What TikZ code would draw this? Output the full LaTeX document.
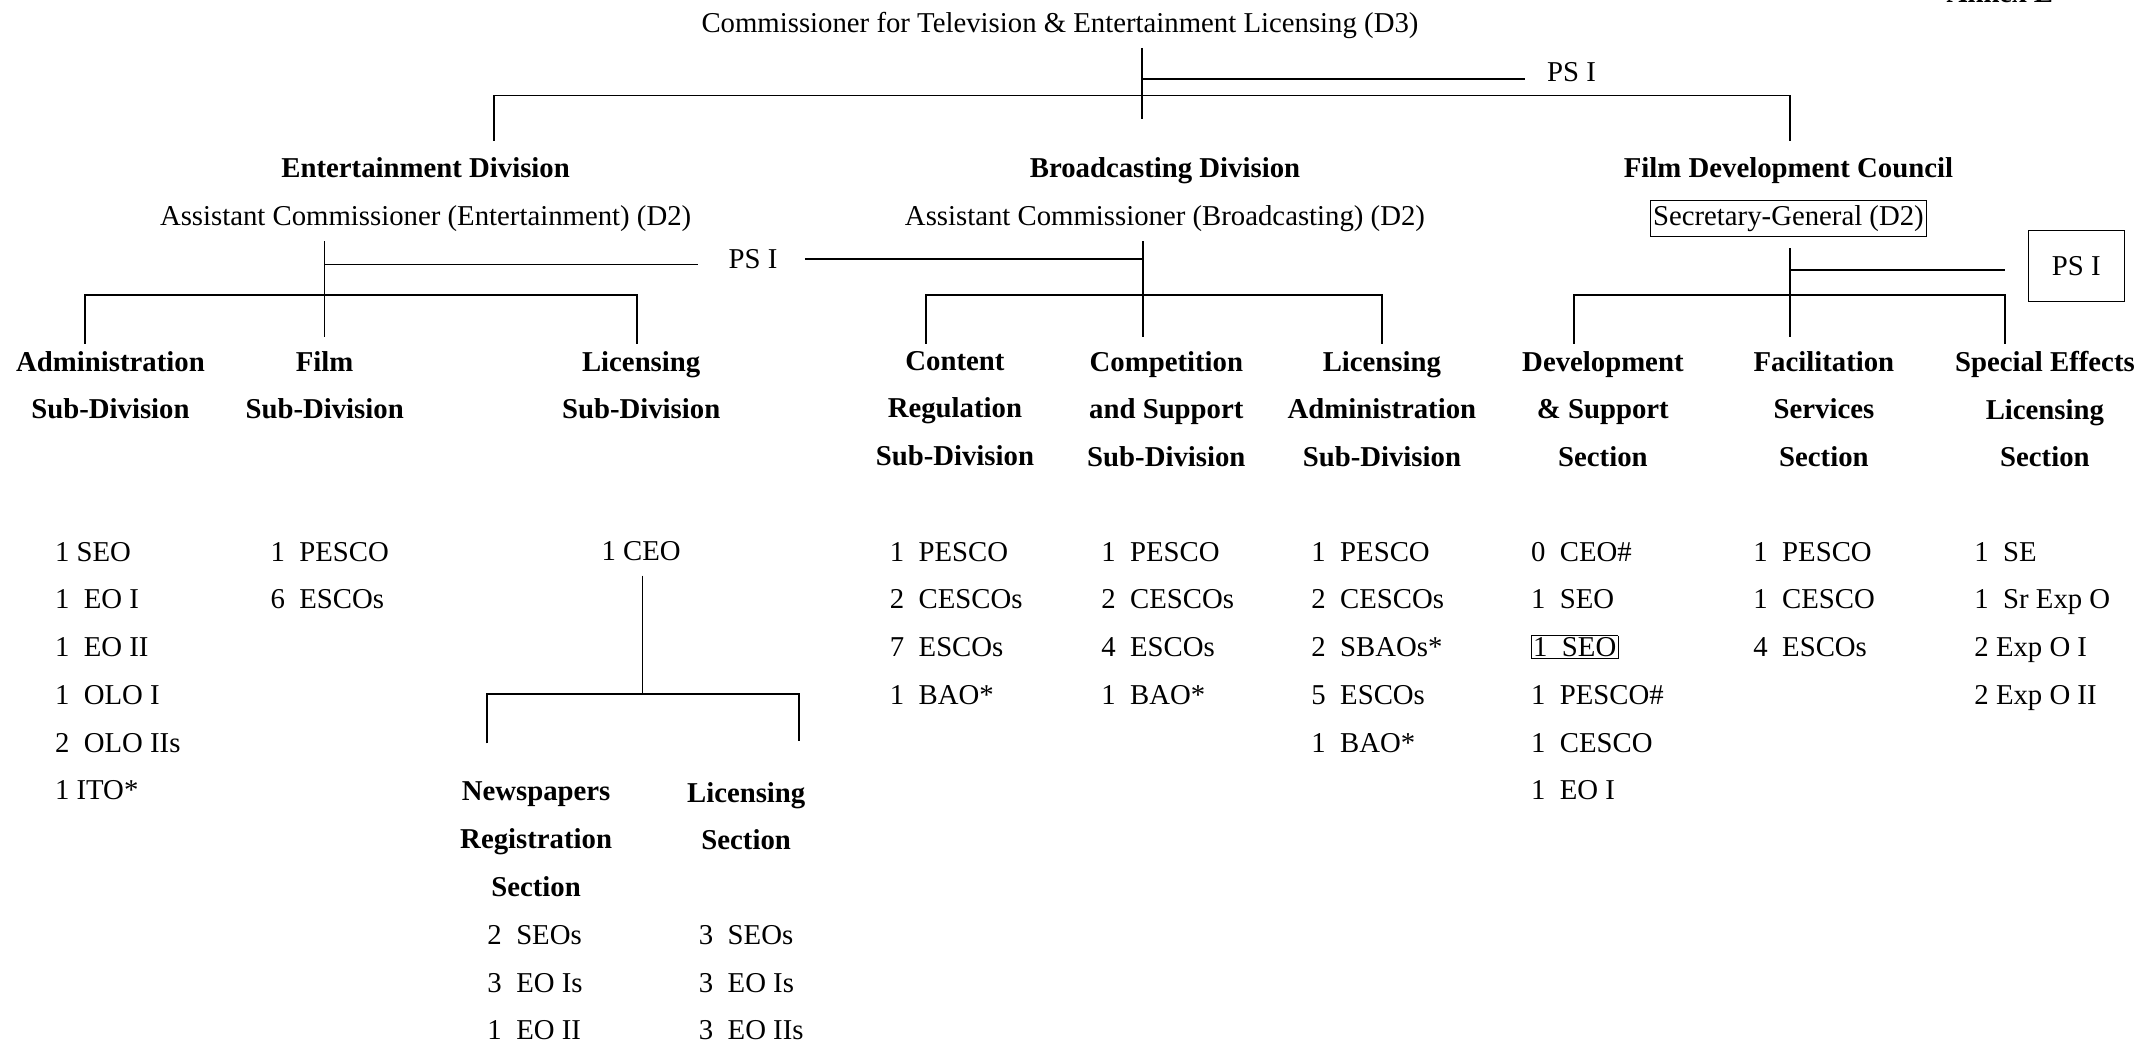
\documentclass[tikz,border=0pt]{standalone}
\usepackage{fontspec}
\setmainfont{Liberation Serif}
\begin{document}
\begin{tikzpicture}[x=0.02cm,y=-0.02cm]
    \tikzstyle{every node}=[font=\fontsize{12}{19.92}\selectfont, inner sep=0pt]
    \tikzstyle{head}=[font=\fontsize{12}{19.92}\selectfont\bfseries, align=center, anchor=north]
    \tikzstyle{staff}=[align=left, anchor=north west]
    \tikzstyle{bar}=[line width=0.8pt]
    \tikzstyle{stem}=[line width=0.6pt]
    \useasboundingbox (0,0) rectangle (1568,765);

    % commissioner
    \node[font=\fontsize{12}{19.92}\selectfont\bfseries, anchor=base] (annex) at (1466,2) {Annex E};
    \node[anchor=base] (comm) at (777,24) {Commissioner for Television \& Entertainment Licensing (D3)};
    \node (commps) at (1152,53) {PS I};
    \coordinate (commtop) at (837,35);
    \coordinate (commmid) at (837,87);
    \coordinate (commpsend) at (1118,58);
    \draw[stem] (commtop) -- (commmid);
    \draw[stem] (837,58) -- (commpsend);
    \draw[bar] (362,103) -- (362,70) -- (1312,70) -- (1312,103);

    % divisions
    \node[font=\fontsize{12}{19.92}\selectfont\bfseries, anchor=base] (entdiv) at (312,130) {Entertainment Division};
    \node[font=\fontsize{12}{19.92}\selectfont\bfseries, anchor=base] (brddiv) at (854,130) {Broadcasting Division};
    \node[font=\fontsize{12}{19.92}\selectfont\bfseries, anchor=base] (fdc) at (1311,130) {Film Development Council};
    \node[anchor=base] (entac) at (312,165) {Assistant Commissioner (Entertainment) (D2)};
    \node[anchor=base] (brdac) at (854,165) {Assistant Commissioner (Broadcasting) (D2)};
    \node[draw, inner xsep=1pt, inner ysep=2pt, anchor=base] (fdcsg) at (1311,165) {Secretary-General (D2)};

    % entertainment division
    \node (entps) at (552,190) {PS I};
    \draw[stem] (238,177) -- (238,247);
    \draw[stem] (238,194) -- (512,194);
    \draw[stem] (590,190) -- (838,190);
    \draw[bar] (62,252) -- (62,216) -- (467,216) -- (467,252);
    \node[head] (admsub) at (81,257) {Administration\\Sub-Division};
    \node[head] (filmsub) at (238,257) {Film\\Sub-Division};
    \node[head] (licsub) at (470,257) {Licensing\\Sub-Division};

    % broadcasting division
    \draw[stem] (838,177) -- (838,247);
    \draw[bar] (679,252) -- (679,216) -- (1013,216) -- (1013,252);
    \node[head] (consub) at (700,257) {Content\\Regulation\\Sub-Division};
    \node[head] (compsub) at (855,257) {Competition\\and Support\\Sub-Division};
    \node[head] (ladmsub) at (1013,257) {Licensing\\Administration\\Sub-Division};

    % film development council
    \node[draw, minimum width=70*0.02cm, minimum height=52*0.02cm] (fdcps) at (1522,195) {PS I};
    \draw[stem] (1312,182) -- (1312,247);
    \draw[stem] (1312,198) -- (1470,198);
    \draw[bar] (1154,252) -- (1154,216) -- (1470,216) -- (1470,252);
    \node[head] (devsec) at (1175,257) {Development\\\& Support\\Section};
    \node[head] (facsec) at (1337,257) {Facilitation\\Services\\Section};
    \node[head] (sfxsec) at (1499,257) {Special Effects\\Licensing\\Section};

    % staff
    \node[staff] (admstaff) at (40,397) {1 SEO\\1\ \ EO I\\1\ \ EO II\\1\ \ OLO I\\2\ \ OLO IIs\\1 ITO*};
    \node[staff] (filmstaff) at (198,397) {1\ \ PESCO\\6\ \ ESCOs};
    \node (licceo) at (470,404) {1 CEO};
    \node[staff] (constaff) at (652,397) {1\ \ PESCO\\2\ \ CESCOs\\7\ \ ESCOs\\1\ \ BAO*};
    \node[staff] (compstaff) at (807,397) {1\ \ PESCO\\2\ \ CESCOs\\4\ \ ESCOs\\1\ \ BAO*};
    \node[staff] (ladmstaff) at (961,397) {1\ \ PESCO\\2\ \ CESCOs\\2\ \ SBAOs*\\5\ \ ESCOs\\1\ \ BAO*};
    \node[staff] (devstaff) at (1122,397) {0\ \ CEO\#\\1\ \ SEO\\\setlength{\fboxsep}{0.5pt}\fbox{1\ \ SEO}\\1\ \ PESCO\#\\1\ \ CESCO\\1\ \ EO I};
    \node[staff] (facstaff) at (1285,397) {1\ \ PESCO\\1\ \ CESCO\\4\ \ ESCOs};
    \node[staff] (sfxstaff) at (1447,397) {1\ \ SE\\1\ \ Sr Exp O\\2 Exp O I\\2 Exp O II};

    % licensing sub-division sections
    \draw[stem] (471,422) -- (471,509);
    \draw[bar] (357,545) -- (357,509) -- (586,509) -- (586,543);
    \node[head] (nrsec) at (393,573) {Newspapers\\Registration\\Section};
    \node[head] (lssec) at (547,573) {Licensing\\Section};
    \node[staff] (nrstaff) at (357,678) {2\ \ SEOs\\3\ \ EO Is\\1\ \ EO II};
    \node[staff] (lsstaff) at (512,678) {3\ \ SEOs\\3\ \ EO Is\\3\ \ EO IIs};
\end{tikzpicture}
\end{document}
